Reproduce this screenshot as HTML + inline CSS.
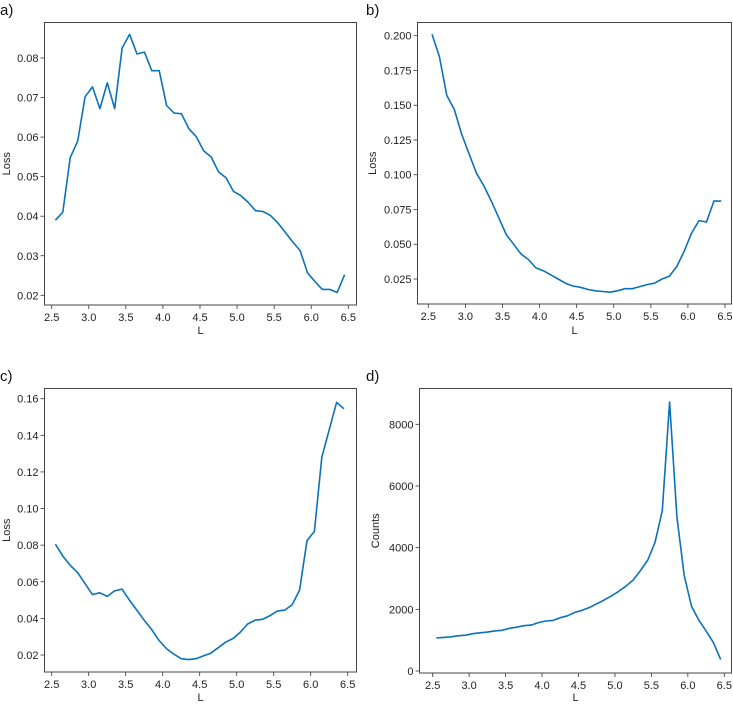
<!DOCTYPE html>
<html><head><meta charset="utf-8"><style>
body{margin:0;background:#fff;width:733px;height:705px;overflow:hidden}
svg{display:block;font-family:"Liberation Sans",sans-serif}
</style></head><body>
<svg id="chart" width="733" height="705" viewBox="0 0 733 705"></svg>
<script>
const xCats = [2.55,2.65,2.75,2.85,2.95,3.05,3.15,3.25,3.35,3.45,3.55,3.65,3.75,3.85,3.95,4.05,4.15,4.25,4.35,4.45,4.55,4.65,4.75,4.85,4.95,5.05,5.15,5.25,5.35,5.45,5.55,5.65,5.75,5.85,5.95,6.05,6.15,6.25,6.35,6.45];
const xTicks = [2.5,3.0,3.5,4.0,4.5,5.0,5.5,6.0,6.5];
const xTickLabels = ["2.5","3.0","3.5","4.0","4.5","5.0","5.5","6.0","6.5"];
const seriesA = [0.039,0.041,0.0548,0.059,0.0702,0.0727,0.0672,0.0737,0.0672,0.0825,0.086,0.081,0.0815,0.0768,0.0768,0.068,0.0661,0.0659,0.0621,0.0601,0.0565,0.055,0.0512,0.0497,0.0463,0.0452,0.0435,0.0414,0.0412,0.0402,0.0383,0.0359,0.0335,0.0313,0.0257,0.0235,0.0215,0.0215,0.0207,0.0252];
const seriesB = [0.201,0.185,0.157,0.147,0.129,0.115,0.101,0.092,0.081,0.069,0.057,0.050,0.043,0.039,0.033,0.031,0.028,0.025,0.022,0.020,0.019,0.0175,0.0165,0.016,0.0155,0.0165,0.018,0.018,0.0195,0.021,0.022,0.025,0.027,0.034,0.045,0.058,0.067,0.066,0.081,0.081];
const seriesC = [0.0805,0.074,0.069,0.065,0.059,0.053,0.054,0.052,0.055,0.056,0.050,0.0445,0.039,0.034,0.028,0.0235,0.0205,0.018,0.0175,0.018,0.0195,0.021,0.024,0.027,0.029,0.0325,0.037,0.039,0.0395,0.0415,0.044,0.0445,0.0475,0.0555,0.0825,0.0875,0.128,0.143,0.158,0.1545];
const seriesD = [1070,1090,1110,1140,1160,1210,1240,1260,1300,1320,1380,1420,1470,1490,1570,1620,1640,1730,1790,1900,1970,2060,2180,2300,2430,2580,2750,2950,3260,3600,4170,5200,8720,5000,3100,2100,1650,1300,920,370];
const yTicksA = [0.02,0.03,0.04,0.05,0.06,0.07,0.08];
const yLabelsA = ["0.02","0.03","0.04","0.05","0.06","0.07","0.08"];
const yTicksB = [0.025,0.05,0.075,0.1,0.125,0.15,0.175,0.2];
const yLabelsB = ["0.025","0.050","0.075","0.100","0.125","0.150","0.175","0.200"];
const yTicksC = [0.02,0.04,0.06,0.08,0.10,0.12,0.14,0.16];
const yLabelsC = ["0.02","0.04","0.06","0.08","0.10","0.12","0.14","0.16"];
const yTicksD = [0,2000,4000,6000,8000];
const yLabelsD = ["0","2000","4000","6000","8000"];

const panels = [
 {id:'a',label:'a)',ylab:'Loss',data:seriesA,yt:yTicksA,yl:yLabelsA,box:[44.5,22.5,356.5,305],x0:51.7,x1:348.3,yv0:0.02,yp0:295.3,yv1:0.08,yp1:58,lx:0,ly:15,ylx:10,xly:334},
 {id:'b',label:'b)',ylab:'Loss',data:seriesB,yt:yTicksB,yl:yLabelsB,box:[417.5,22.5,731.5,304],x0:428.3,x1:725,yv0:0.025,yp0:279,yv1:0.2,yp1:35.7,lx:366,ly:15,ylx:376,xly:334},
 {id:'c',label:'c)',ylab:'Loss',data:seriesC,yt:yTicksC,yl:yLabelsC,box:[44.5,388.5,356.5,672],x0:51.7,x1:347.7,yv0:0.02,yp0:655,yv1:0.16,yp1:398.7,lx:0,ly:381,ylx:10,xly:701},
 {id:'d',label:'d)',ylab:'Counts',data:seriesD,yt:yTicksD,yl:yLabelsD,box:[419.5,388.5,731.5,673],x0:432.7,x1:724.3,yv0:0,yp0:671,yv1:8000,yp1:424.3,lx:366,ly:381,ylx:379,xly:701}
];
const svg=document.getElementById('chart');
const NS='http://www.w3.org/2000/svg';
function mk(tag,attrs,parent){const e=document.createElementNS(NS,tag);for(const k in attrs)e.setAttribute(k,attrs[k]);(parent||svg).appendChild(e);return e;}
panels.forEach(p=>{
 const g=mk('g',{});
 
 
 const xs=v=>p.x0+(v-2.5)/(4)*(p.x1-p.x0);
 const ys=v=>p.yp0+(v-p.yv0)/(p.yv1-p.yv0)*(p.yp1-p.yp0);
 const [l,t,r,b]=p.box;
 const pl=mk('text',{x:p.lx,y:p.ly,'font-size':'15',fill:'#111'},g);pl.textContent=p.label;
 
 
 xTicks.forEach((v,i)=>{const x=xs(v);
  mk('line',{x1:x,x2:x,y1:b,y2:b+4,stroke:'#333','stroke-width':'0.8'},g);
  const tx=mk('text',{x:x,y:b+16,'font-size':'11','text-anchor':'middle',fill:'#222'},g);tx.textContent=xTickLabels[i];
  
  
 });
 p.yt.forEach((v,i)=>{const y=ys(v);
  mk('line',{x1:l-4,x2:l,y1:y,y2:y,stroke:'#333','stroke-width':'0.8'},g);
  const tx=mk('text',{x:l-6,y:y+4,'font-size':'11','text-anchor':'end',fill:'#222'},g);tx.textContent=p.yl[i];
  
  
 });
 const xl=mk('text',{x:(l+r)/2,y:p.xly,'font-size':'11','text-anchor':'middle',fill:'#222'},g);xl.textContent='L';
 
 
 const cy=(t+b)/2;
 const yl=mk('text',{x:p.ylx,y:cy,'font-size':'11','text-anchor':'middle',fill:'#222',transform:`rotate(-90 ${p.ylx} ${cy})`},g);yl.textContent=p.ylab;
 
 
 const pts=p.data.map((v,i)=>xs(xCats[i]).toFixed(1)+','+ys(v).toFixed(1)).join(' ');
 const line=mk('polyline',{points:pts,fill:'none',stroke:'#0a72b8','stroke-width':'1.6','stroke-linejoin':'round'},g);
 
 
 const fr=mk('rect',{x:l,y:t,width:r-l,height:b-t,fill:'none',stroke:'#444','stroke-width':'1'},g);
 
 
});
</script>
</body></html>
